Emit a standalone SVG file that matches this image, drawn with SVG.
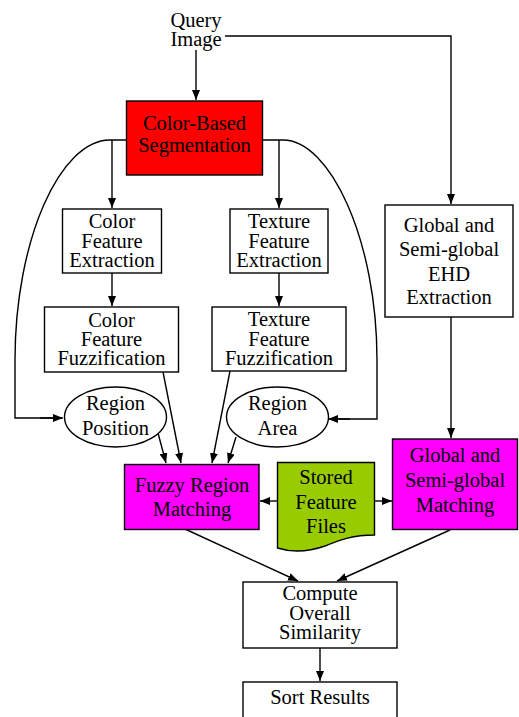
<svg xmlns="http://www.w3.org/2000/svg" width="519" height="717" viewBox="0 0 519 717">
<defs>
<marker id="ah" markerWidth="10" markerHeight="8" refX="10" refY="4" orient="auto" markerUnits="userSpaceOnUse">
<path d="M0,0 L10,4 L0,8 z" fill="#000"/>
</marker>
<style>
text{font-family:'Liberation Serif','Times New Roman','DejaVu Serif',serif;font-size:20.5px;text-anchor:middle;fill:#000}
.box{stroke:#000;stroke-width:1.4;fill:#fff}
.c{fill:none;stroke:#000;stroke-width:1.4}
.a{marker-end:url(#ah)}
</style>
</defs>
<g id="connectors">
<path class="c a" d="M196,50 V100"/>
<path class="c a" d="M225,36 H451 V204"/>
<path class="c" d="M126,140 H110 C60,140 15,240 15,360 V418 H54"/>
<path class="c a" d="M40,418 H63"/>
<path class="c a" d="M112,140 V208"/>
<path class="c" d="M262,140 H283 C330,140 377,240 377,360 V419 H338"/>
<path class="c a" d="M350,419 H328"/>
<path class="c a" d="M279,140 V208"/>
<path class="c a" d="M112,273 V306"/>
<path class="c a" d="M279,273 V306"/>
<path class="c a" d="M451,317 V438"/>
<path class="c a" d="M158,433 L166,463"/>
<path class="c a" d="M163,372 L181,463"/>
<path class="c a" d="M230,371 L212,463"/>
<path class="c a" d="M236,437 L228,463"/>
<path class="c a" d="M277,501 H260"/>
<path class="c a" d="M374,501 H392"/>
<path class="c a" d="M185,529 L298,581"/>
<path class="c a" d="M450,530 L337,581"/>
<path class="c a" d="M320,648 V681"/>
</g>
<g font-family="Liberation Serif, Times New Roman, serif">
<g id="query">
<text x="196" y="27">Query</text>
<text x="196" y="46">Image</text>
</g>
<g id="segmentation">
<rect x="126.5" y="101" width="136" height="74" fill="#ff0000" stroke="#000" stroke-width="1.4"/>
<text x="194.5" y="130">Color-Based</text>
<text x="194.5" y="152">Segmentation</text>
</g>
<g id="color-extraction">
<rect class="box" x="62.5" y="209" width="99" height="64"/>
<text x="112" y="228">Color</text>
<text x="112" y="248">Feature</text>
<text x="112" y="267">Extraction</text>
</g>
<g id="texture-extraction">
<rect class="box" x="230" y="209" width="98" height="64"/>
<text x="279" y="228">Texture</text>
<text x="279" y="248">Feature</text>
<text x="279" y="267">Extraction</text>
</g>
<g id="color-fuzz">
<rect class="box" x="44.5" y="307" width="134" height="65"/>
<text x="111.5" y="326.5">Color</text>
<text x="111.5" y="346">Feature</text>
<text x="111.5" y="365">Fuzzification</text>
</g>
<g id="texture-fuzz">
<rect class="box" x="212" y="307" width="134" height="64"/>
<text x="279" y="326">Texture</text>
<text x="279" y="345.5">Feature</text>
<text x="279" y="364.5">Fuzzification</text>
</g>
<g id="global-ehd">
<rect class="box" x="385" y="205" width="128" height="112"/>
<text x="449" y="232">Global and</text>
<text x="449" y="256">Semi-global</text>
<text x="449" y="281">EHD</text>
<text x="449" y="304">Extraction</text>
</g>
<g id="region-position">
<ellipse class="box" cx="115.5" cy="417" rx="51" ry="30"/>
<text x="115.5" y="410">Region</text>
<text x="115.5" y="435">Position</text>
</g>
<g id="region-area">
<ellipse class="box" cx="277.5" cy="417" rx="51" ry="30"/>
<text x="277.5" y="410">Region</text>
<text x="277.5" y="435">Area</text>
</g>
<g id="fuzzy-matching">
<rect x="124.5" y="464.5" width="134.5" height="65" fill="#ff00ff" stroke="#000" stroke-width="1.4"/>
<text x="192" y="492">Fuzzy Region</text>
<text x="192" y="516">Matching</text>
</g>
<g id="stored">
<path d="M277.5,462.5 H374.5 V535 C352,535 340,540 325,546 C305,553 290,552 277.5,548 Z" stroke="#000" stroke-width="1.4" fill="#99cc00"/>
<text x="326" y="484">Stored</text>
<text x="326" y="508.5">Feature</text>
<text x="326" y="533">Files</text>
</g>
<g id="global-matching">
<rect x="392.5" y="439" width="125" height="90.5" fill="#ff00ff" stroke="#000" stroke-width="1.4"/>
<text x="455" y="462">Global and</text>
<text x="455" y="487">Semi-global</text>
<text x="455" y="512">Matching</text>
</g>
<g id="compute">
<rect class="box" x="243" y="582" width="154" height="66"/>
<text x="320" y="600">Compute</text>
<text x="320" y="620">Overall</text>
<text x="320" y="639">Similarity</text>
</g>
<g id="sort">
<rect class="box" x="243" y="682" width="154" height="50"/>
<text x="320" y="704">Sort Results</text>
</g>
</g>
</svg>
